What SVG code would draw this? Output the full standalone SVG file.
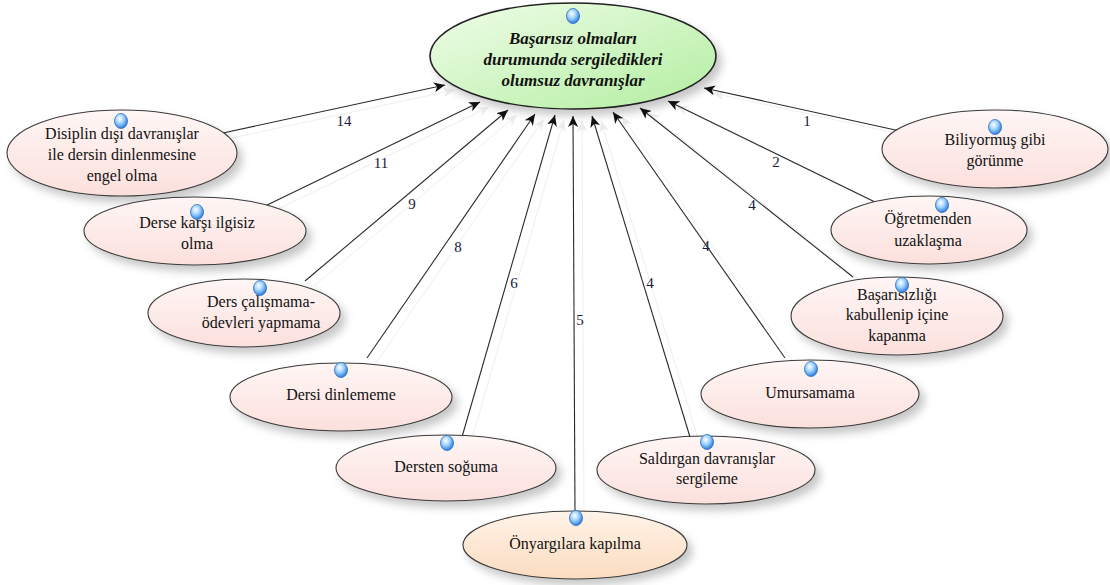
<svg xmlns="http://www.w3.org/2000/svg" width="1110" height="585" viewBox="0 0 1110 585" font-family="'Liberation Serif', 'Times New Roman', serif">
  <defs>
    <linearGradient id="gPink" x1="0" y1="0" x2="0" y2="1">
      <stop offset="0" stop-color="#fff6f5"/>
      <stop offset="1" stop-color="#fbe0dd"/>
    </linearGradient>
    <linearGradient id="gPeach" x1="0" y1="0" x2="0" y2="1">
      <stop offset="0" stop-color="#fff3e8"/>
      <stop offset="1" stop-color="#fbdcc0"/>
    </linearGradient>
    <linearGradient id="gGreen" x1="0" y1="0" x2="1" y2="1">
      <stop offset="0" stop-color="#f0fde9"/>
      <stop offset="1" stop-color="#b2eea0"/>
    </linearGradient>
    <radialGradient id="gDot" cx="0.4" cy="0.35" r="0.7">
      <stop offset="0" stop-color="#ffffff"/>
      <stop offset="0.45" stop-color="#9fd3ff"/>
      <stop offset="1" stop-color="#1f6fd8"/>
    </radialGradient>
    <filter id="shadow" x="-20%" y="-20%" width="150%" height="160%">
      <feDropShadow dx="5" dy="6" stdDeviation="4" flood-color="#000" flood-opacity="0.22"/>
    </filter>
    <marker id="arr" markerWidth="12" markerHeight="10" refX="11" refY="5" orient="auto" markerUnits="userSpaceOnUse">
      <path d="M0,0 L11,5 L0,10 L3,5 Z" fill="#111"/>
    </marker>
    <marker id="arrS" markerWidth="12" markerHeight="10" refX="11" refY="5" orient="auto" markerUnits="userSpaceOnUse">
      <path d="M0,0 L11,5 L0,10 L3,5 Z" fill="#ececec"/>
    </marker>
  </defs>
  <style>
    .node { stroke: #3a3a3a; stroke-width: 1.1; filter: url(#shadow); }
    .pink { fill: url(#gPink); }
    .peach { fill: url(#gPeach); }
    .green { fill: url(#gGreen); stroke: #222; stroke-width: 1.6; }
    .t { font-family: 'Liberation Serif', 'Times New Roman', serif; font-size: 16px; fill: #111; text-anchor: middle; }
    .tc { font-family: 'Liberation Serif', 'Times New Roman', serif; font-size: 17px; font-weight: bold; font-style: italic; fill: #111; text-anchor: middle; }
    .lbl { font-family: 'Liberation Serif', 'Times New Roman', serif; font-size: 15px; fill: #1a1a3a; text-anchor: middle; }
    .edge { stroke: #2a2a2a; stroke-width: 1.1; fill: none; marker-end: url(#arr); }
    .edgeS { stroke: #eeeeee; stroke-width: 1; fill: none; marker-end: url(#arrS); }
    .dot { fill: url(#gDot); stroke: #2a6fc0; stroke-width: 0.8; }
  </style>

  <rect width="1110" height="585" fill="#ffffff"/>

  <!-- faint offset copies of the connectors -->
  <g id="connector-shadows" transform="translate(9,5)">
    <line class="edgeS" x1="223" y1="133" x2="445" y2="85"/>
    <line class="edgeS" x1="263" y1="207" x2="480" y2="102"/>
    <line class="edgeS" x1="305" y1="281" x2="508" y2="110"/>
    <line class="edgeS" x1="367" y1="358" x2="535" y2="114"/>
    <line class="edgeS" x1="462" y1="437" x2="555" y2="115"/>
    <line class="edgeS" x1="575" y1="512" x2="573" y2="116"/>
    <line class="edgeS" x1="690" y1="437" x2="592" y2="116"/>
    <line class="edgeS" x1="785" y1="358" x2="613" y2="112"/>
    <line class="edgeS" x1="853" y1="277" x2="640" y2="108"/>
    <line class="edgeS" x1="875" y1="202" x2="668" y2="101"/>
    <line class="edgeS" x1="900" y1="131" x2="704" y2="88"/>
  </g>

  <!-- connectors -->
  <g id="connectors">
    <line class="edge" x1="223" y1="133" x2="445" y2="85"/>
    <line class="edge" x1="263" y1="207" x2="480" y2="102"/>
    <line class="edge" x1="305" y1="281" x2="508" y2="110"/>
    <line class="edge" x1="367" y1="358" x2="535" y2="114"/>
    <line class="edge" x1="462" y1="437" x2="555" y2="115"/>
    <line class="edge" x1="575" y1="512" x2="573" y2="116"/>
    <line class="edge" x1="690" y1="437" x2="592" y2="116"/>
    <line class="edge" x1="785" y1="358" x2="613" y2="112"/>
    <line class="edge" x1="853" y1="277" x2="640" y2="108"/>
    <line class="edge" x1="875" y1="202" x2="668" y2="101"/>
    <line class="edge" x1="900" y1="131" x2="704" y2="88"/>
    <text class="lbl" x="344" y="126">14</text>
    <text class="lbl" x="381" y="168">11</text>
    <text class="lbl" x="412" y="209">9</text>
    <text class="lbl" x="458" y="252">8</text>
    <text class="lbl" x="514" y="288">6</text>
    <text class="lbl" x="580" y="325">5</text>
    <text class="lbl" x="650" y="288">4</text>
    <text class="lbl" x="706" y="251">4</text>
    <text class="lbl" x="752" y="210">4</text>
    <text class="lbl" x="776" y="167">2</text>
    <text class="lbl" x="807" y="126">1</text>
  </g>

  <g id="center">
    <ellipse class="node green" cx="573" cy="56" rx="143" ry="53"/>
    <ellipse class="dot" cx="573" cy="16" rx="6.5" ry="7.5"/>
    <text class="tc" x="573" y="44">Başarısız olmaları</text>
    <text class="tc" x="573" y="65">durumunda sergiledikleri</text>
    <text class="tc" x="573" y="86">olumsuz davranışlar</text>
  </g>

  <g id="n-disiplin">
    <ellipse class="node pink" cx="122" cy="153" rx="115" ry="43"/>
    <text class="t" x="122" y="139">Disiplin dışı davranışlar</text>
    <text class="t" x="122" y="160">ile dersin dinlenmesine</text>
    <text class="t" x="122" y="181">engel olma</text>
    <ellipse class="dot" cx="121" cy="121" rx="6.5" ry="7.5"/>
  </g>

  <g id="n-ilgisiz">
    <ellipse class="node pink" cx="195" cy="231" rx="111" ry="34"/>
    <text class="t" x="197" y="228">Derse karşı ilgisiz</text>
    <text class="t" x="197" y="249">olma</text>
    <ellipse class="dot" cx="197" cy="212" rx="6.5" ry="7.5"/>
  </g>

  <g id="n-calismama">
    <ellipse class="node pink" cx="244" cy="313" rx="96" ry="34"/>
    <text class="t" x="261" y="307">Ders çalışmama-</text>
    <text class="t" x="261" y="328">ödevleri yapmama</text>
    <ellipse class="dot" cx="260" cy="288" rx="6.5" ry="7.5"/>
  </g>

  <g id="n-dinlememe">
    <ellipse class="node pink" cx="341" cy="397" rx="111" ry="34"/>
    <text class="t" x="341" y="400">Dersi dinlememe</text>
    <ellipse class="dot" cx="341" cy="370" rx="6.5" ry="7.5"/>
  </g>

  <g id="n-soguma">
    <ellipse class="node pink" cx="446" cy="468" rx="110" ry="33"/>
    <text class="t" x="446" y="472">Dersten soğuma</text>
    <ellipse class="dot" cx="447" cy="443" rx="6.5" ry="7.5"/>
  </g>

  <g id="n-onyargi">
    <ellipse class="node peach" cx="575" cy="545" rx="112" ry="34"/>
    <text class="t" x="575" y="549">Önyargılara kapılma</text>
    <ellipse class="dot" cx="576" cy="518" rx="6.5" ry="7.5"/>
  </g>

  <g id="n-saldirgan">
    <ellipse class="node pink" cx="706" cy="470" rx="109" ry="34"/>
    <text class="t" x="707" y="464">Saldırgan davranışlar</text>
    <text class="t" x="707" y="484">sergileme</text>
    <ellipse class="dot" cx="707" cy="442" rx="6.5" ry="7.5"/>
  </g>

  <g id="n-umursamama">
    <ellipse class="node pink" cx="810" cy="394" rx="109" ry="34"/>
    <text class="t" x="810" y="398">Umursamama</text>
    <ellipse class="dot" cx="811" cy="369" rx="6.5" ry="7.5"/>
  </g>

  <g id="n-kapanma">
    <ellipse class="node pink" cx="897" cy="316" rx="106" ry="39"/>
    <text class="t" x="897" y="300">Başarısızlığı</text>
    <text class="t" x="897" y="320">kabullenip içine</text>
    <text class="t" x="897" y="341">kapanma</text>
    <ellipse class="dot" cx="902" cy="285" rx="6.5" ry="7.5"/>
  </g>

  <g id="n-uzaklasma">
    <ellipse class="node pink" cx="929" cy="230" rx="98" ry="34"/>
    <text class="t" x="928" y="224">Öğretmenden</text>
    <text class="t" x="928" y="246">uzaklaşma</text>
    <ellipse class="dot" cx="942" cy="205" rx="6.5" ry="7.5"/>
  </g>

  <g id="n-biliyormus">
    <ellipse class="node pink" cx="995" cy="149" rx="113" ry="39"/>
    <text class="t" x="995" y="145">Biliyormuş gibi</text>
    <text class="t" x="995" y="166">görünme</text>
    <ellipse class="dot" cx="995" cy="127" rx="6.5" ry="7.5"/>
  </g>
</svg>
